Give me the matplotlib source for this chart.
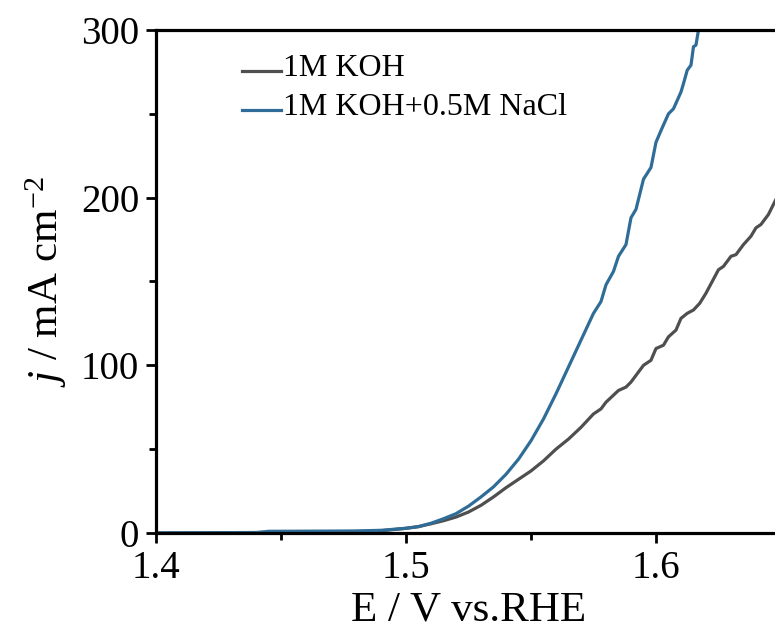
import matplotlib
matplotlib.use("Agg")
import matplotlib.pyplot as plt
from matplotlib.legend_handler import HandlerLine2D
from matplotlib.ticker import MultipleLocator

plt.rcParams['font.family'] = ['Liberation Serif', 'DejaVu Serif']
plt.rcParams['mathtext.fontset'] = 'custom'
plt.rcParams['mathtext.rm'] = 'Liberation Serif'
plt.rcParams['mathtext.it'] = 'Liberation Serif:italic'

# LSV polarisation curves, potential (V vs. RHE) and current density (mA cm-2)
e_koh = [1.40, 1.44, 1.48, 1.49, 1.50, 1.505, 1.51, 1.515, 1.52, 1.525, 1.53,
         1.535, 1.54, 1.545, 1.55, 1.555, 1.56, 1.565, 1.57, 1.575, 1.578,
         1.58, 1.585, 1.588, 1.59, 1.593, 1.595, 1.598, 1.60, 1.603, 1.605,
         1.608, 1.61, 1.6125, 1.615, 1.6175, 1.62, 1.6225, 1.625, 1.627,
         1.63, 1.632, 1.635, 1.638, 1.64, 1.642, 1.645, 1.648]
j_koh = [0.0, 0.3, 0.9, 1.3, 2.8, 3.8, 5.5, 7.3, 9.5, 12.5, 16.5,
         21.5, 27, 32, 37, 43, 50, 56, 63, 71, 74,
         78, 85, 87, 90, 96, 100, 103, 110, 112, 117,
         121, 128, 131, 133, 137, 143, 150, 157, 159,
         165, 166, 172, 177, 182, 184, 190, 199]

e_nacl = [1.40, 1.44, 1.445, 1.48, 1.49, 1.50, 1.505, 1.51, 1.515, 1.52, 1.525,
          1.53, 1.535, 1.54, 1.545, 1.55, 1.555, 1.56, 1.565, 1.57, 1.575,
          1.578, 1.58, 1.583, 1.585, 1.588, 1.59, 1.592, 1.595, 1.598, 1.60,
          1.602, 1.605, 1.607, 1.61, 1.611, 1.6125, 1.614, 1.615, 1.616,
          1.617, 1.6175]
j_nacl = [0.0, 0.2, 1.0, 1.2, 1.6, 2.8, 3.8, 5.8, 8.5, 11.5, 16,
          21.5, 27.5, 35, 44, 55, 68, 83, 99, 115, 131,
          138, 148, 156, 165, 172, 188, 193, 211, 218, 233,
          240, 250, 253, 263, 268, 276, 279, 290, 291,
          300, 303]


class BaselineLine(HandlerLine2D):
    # legend sample drawn near the text baseline instead of mid-height
    def create_artists(self, legend, orig_handle, xdescent, ydescent,
                       width, height, fontsize, trans):
        return super().create_artists(legend, orig_handle, xdescent,
                                      ydescent + 0.55 * height, width, height,
                                      fontsize, trans)


fig = plt.figure(figsize=(7.75, 6.39), dpi=100)
ax = fig.add_axes([0.2013, 0.1659, 0.8064, 0.7872])

ax.plot(e_koh, j_koh, color='#4f4f4f', lw=2.3, label='1M KOH')
ax.plot(e_nacl, j_nacl, color='#2f6d98', lw=2.3, label='1M KOH+0.5M NaCl')

ax.set_xlim(1.4, 1.65)
ax.set_ylim(0, 300)
ax.xaxis.set_major_locator(MultipleLocator(0.1))
ax.xaxis.set_minor_locator(MultipleLocator(0.05))
ax.yaxis.set_major_locator(MultipleLocator(100))
ax.yaxis.set_minor_locator(MultipleLocator(50))
ax.tick_params(which='major', direction='out', length=7, width=2, labelsize=28, pad=5)
ax.tick_params(which='minor', direction='out', length=5, width=2)
for s in ax.spines.values():
    s.set_linewidth(2.3)

ax.set_xlabel('E / V vs.RHE', fontsize=31, labelpad=3)
ax.set_ylabel(r'$j$ / mA cm$^{-2}$', fontsize=31, labelpad=9)

ax.legend(loc='upper left', bbox_to_anchor=(0.138, 0.952), frameon=False,
          fontsize=23, handlelength=1.2, handletextpad=0.08, borderpad=0,
          borderaxespad=0, labelspacing=0.3,
          handler_map={plt.Line2D: BaselineLine()})

fig.savefig('out.png', dpi=100)
